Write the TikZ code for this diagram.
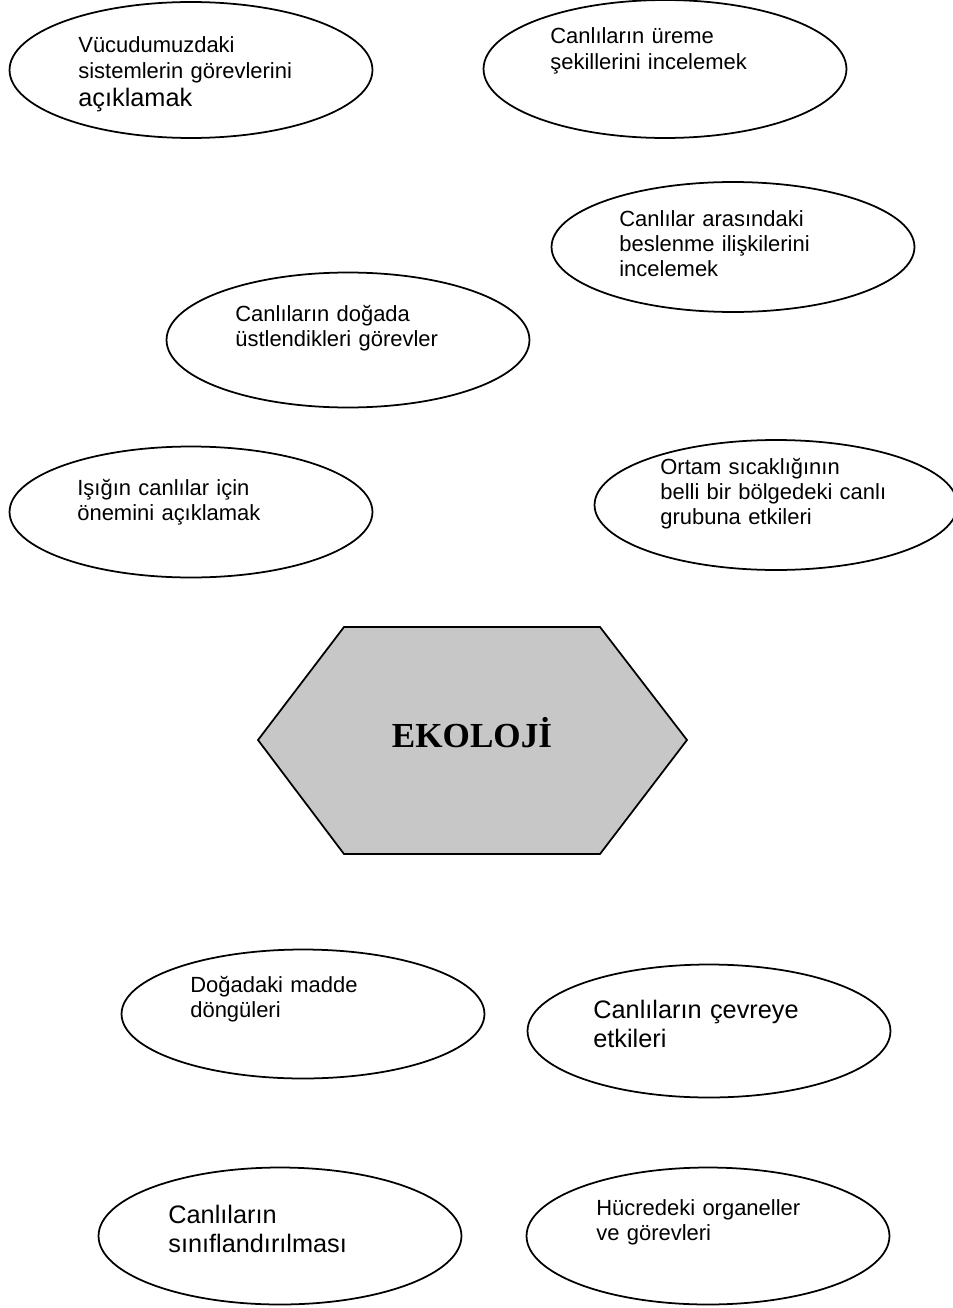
\documentclass[tikz,border=0pt]{standalone}
\usepackage{fontspec}
\setmainfont{Liberation Sans}
\newfontfamily\ekofont{Liberation Serif}
\usetikzlibrary{positioning,shapes.geometric}

\begin{document}
\begin{tikzpicture}[x=0.02cm, y=-0.02cm,
        oval/.style={draw, ellipse, line width=1pt, minimum width=7.26cm, minimum height=2.64cm, inner sep=0pt},
        txt/.style={anchor=base west, inner sep=0pt, text width=5.2cm, align=left, font=\fontsize{12.5}{14.5}\selectfont},
        bigtxt/.style={txt, font=\fontsize{14.4}{16.5}\selectfont},
        hex/.style={draw, line width=1pt, fill=black!22}
    ]
    \useasboundingbox (0,0) rectangle (953,1308);

    % Elipsler
    \node[oval, minimum height=2.72cm] (vucut) at (191,70) {};
    \node[oval, minimum height=2.76cm] (ureme) at (665,69) {};
    \node[oval, minimum height=2.60cm] (beslenme) at (733,247) {};
    \node[oval, minimum height=2.70cm] (gorev) at (348,340) {};
    \node[oval, minimum height=2.62cm] (isik) at (191,512) {};
    \node[oval, minimum height=2.60cm] (ortam) at (776,505) {};
    \node[oval, minimum height=2.58cm] (madde) at (303,1014) {};
    \node[oval, minimum height=2.66cm] (cevre) at (709,1031) {};
    \node[oval, minimum height=2.74cm] (sinif) at (280,1236) {};
    \node[oval, minimum height=2.74cm] (hucre) at (708,1236) {};

    % Metinler
    \node[txt] (vucut-t) at (78,53) {Vücudumuzdaki\\ sistemlerin görevlerini\\[1.5pt] {\fontsize{14.4}{16.5}\selectfont açıklamak}};
    \node[txt] (ureme-t) at (550,44) {Canlıların üreme\\ şekillerini incelemek};
    \node[txt] (beslenme-t) at (619,226) {Canlılar arasındaki\\ beslenme ilişkilerini\\ incelemek};
    \node[txt] (gorev-t) at (235,321) {Canlıların doğada\\ üstlendikleri görevler};
    \node[txt] (isik-t) at (77,495) {Işığın canlılar için\\ önemini açıklamak};
    \node[txt] (ortam-t) at (660,474) {Ortam sıcaklığının\\ belli bir bölgedeki canlı\\ grubuna etkileri};
    \node[txt] (madde-t) at (190,992) {Doğadaki madde\\ döngüleri};
    \node[bigtxt] (cevre-t) at (593,1018) {Canlıların çevreye\\ etkileri};
    \node[bigtxt] (sinif-t) at (168,1223) {Canlıların\\ sınıflandırılması};
    \node[txt] (hucre-t) at (596,1215) {Hücredeki organeller\\ ve görevleri};

    % Altıgen
    \coordinate (h1) at (344,627);
    \coordinate (h2) at (600,627);
    \coordinate (h3) at (687,740);
    \coordinate (h4) at (600,854);
    \coordinate (h5) at (344,854);
    \coordinate (h6) at (258,740);
    \draw[hex] (h1) -- (h2) -- (h3) -- (h4) -- (h5) -- (h6) -- cycle;
    \node[anchor=base, inner sep=0pt, font=\ekofont\bfseries\fontsize{20}{24}\selectfont] (ekoloji) at (472,747) {EKOLOJİ};

\end{tikzpicture}
\end{document}
